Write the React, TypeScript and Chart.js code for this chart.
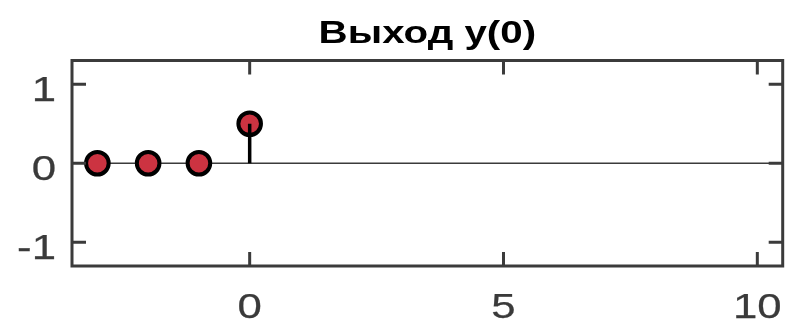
import React, { useEffect, useRef } from "react";
import { Chart, registerables } from "chart.js";

Chart.register(...registerables);

// ---- data ----
const sampleN = [-3, -2, -1, 0];
const outputY = [0, 0, 0, 0.5];
const xTicks = [0, 5, 10];
const yTicks = [-1, 0, 1];
const xTickLabels = ["0", "5", "10"];
const yTickLabels = ["-1", "0", "1"];
const xLimits = [-3.5, 10.5];
const yLimits = [-1.3, 1.3];
const titleText = "Выход y(0)";

const FONT = '"Liberation Sans", Arial, Helvetica, sans-serif';

function drawStretched(
  ctx: CanvasRenderingContext2D,
  text: string,
  x: number,
  y: number,
  align: CanvasTextAlign,
  sx: number,
  stroke: number
) {
  ctx.save();
  ctx.translate(x, y);
  ctx.scale(sx, 1);
  ctx.textAlign = align;
  ctx.textBaseline = "alphabetic";
  ctx.fillText(text, 0, 0);
  if (stroke > 0) {
    ctx.lineWidth = stroke;
    ctx.strokeStyle = ctx.fillStyle as string;
    ctx.strokeText(text, 0, 0);
  }
  ctx.restore();
}

const axesPlugin = {
  id: "matlabAxes",
  afterDraw(chart: any) {
    const { ctx, chartArea: a, scales } = chart;
    const xs = scales.x;
    const ys = scales.y;
    const tickLen = 14;
    ctx.save();
    ctx.strokeStyle = "#3b3b3b";
    ctx.lineWidth = 3;
    ctx.lineCap = "butt";
    ctx.beginPath();
    xTicks.forEach((v) => {
      const px = xs.getPixelForValue(v);
      ctx.moveTo(px, a.bottom);
      ctx.lineTo(px, a.bottom - tickLen);
      ctx.moveTo(px, a.top);
      ctx.lineTo(px, a.top + tickLen);
    });
    yTicks.forEach((v) => {
      const py = ys.getPixelForValue(v);
      ctx.moveTo(a.left, py);
      ctx.lineTo(a.left + tickLen, py);
      ctx.moveTo(a.right, py);
      ctx.lineTo(a.right - tickLen, py);
    });
    ctx.stroke();
    ctx.strokeRect(a.left, a.top, a.right - a.left, a.bottom - a.top);

    // tick labels
    ctx.fillStyle = "#3a3a3a";
    ctx.font = `35px ${FONT}`;
    xTicks.forEach((v, i) => {
      const px = xs.getPixelForValue(v);
      drawStretched(ctx, xTickLabels[i], px, a.bottom + 52, "center", 1.25, 0.25);
    });
    yTicks.forEach((v, i) => {
      const py = ys.getPixelForValue(v);
      drawStretched(ctx, yTickLabels[i], a.left - 16, py + 16.5, "right", 1.25, 0.25);
    });

    // title
    ctx.fillStyle = "#000000";
    ctx.font = `bold 31px ${FONT}`;
    drawStretched(ctx, titleText, (a.left + a.right) / 2, 43, "center", 1.3, 0);
    ctx.restore();
  },
};

export default function App() {
  const canvasRef = useRef<HTMLCanvasElement | null>(null);

  useEffect(() => {
    document.body.style.margin = "0";
    document.body.style.overflow = "hidden";
    const canvas = canvasRef.current;
    if (!canvas) return;

    const stemDatasets = sampleN.map((x, i) => ({
      type: "line" as const,
      data: [
        { x, y: 0 },
        { x, y: outputY[i] },
      ],
      borderColor: "#000000",
      borderWidth: 3.5,
      borderCapStyle: "butt" as const,
      pointRadius: 0,
      showLine: true,
      order: 1,
    }));

    const chart = new Chart(canvas, {
      type: "scatter",
      data: {
        datasets: [
          {
            type: "line",
            data: [
              { x: xLimits[0], y: 0 },
              { x: xLimits[1], y: 0 },
            ],
            borderColor: "#3b3b3b",
            borderWidth: 1.5,
            pointRadius: 0,
            showLine: true,
            order: 3,
          } as any,
          {
            type: "scatter",
            data: sampleN.map((x, i) => ({ x, y: outputY[i] })),
            pointRadius: 11.3,
            pointHoverRadius: 11.3,
            borderWidth: 4,
            backgroundColor: "#CC3341",
            borderColor: "#000000",
            order: 2,
          } as any,
          ...(stemDatasets as any[]),
        ],
      },
      options: {
        animation: false,
        responsive: false,
        devicePixelRatio: 1,
        layout: { padding: { left: 72, right: 5, top: 60.5, bottom: 59 } },
        plugins: {
          legend: { display: false },
          tooltip: { enabled: false },
          title: { display: false },
        },
        scales: {
          x: { type: "linear", display: false, min: xLimits[0], max: xLimits[1] },
          y: { type: "linear", display: false, min: yLimits[0], max: yLimits[1] },
        },
      },
      plugins: [axesPlugin],
    });

    return () => chart.destroy();
  }, []);

  return (
    <div style={{ position: "absolute", left: 0, top: 0, width: 798, height: 325, background: "#ffffff" }}>
      <canvas ref={canvasRef} width={798} height={325} style={{ display: "block", width: 798, height: 325 }} />
    </div>
  );
}
